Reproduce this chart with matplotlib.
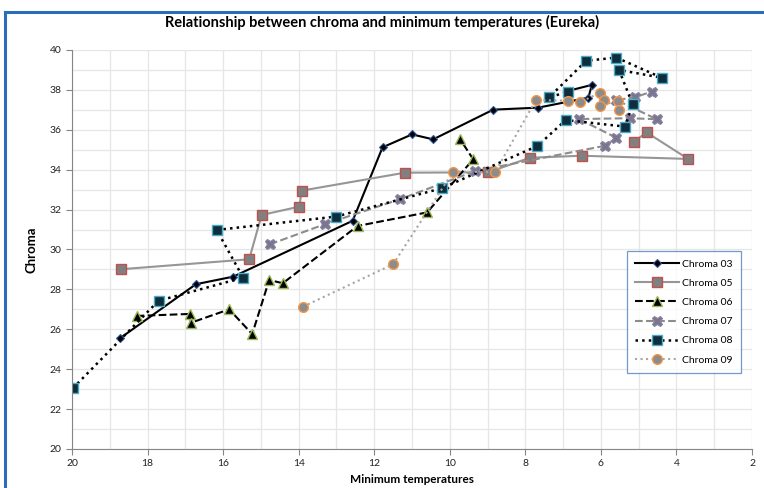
import matplotlib
matplotlib.use("Agg")
import matplotlib.pyplot as plt
from matplotlib.lines import Line2D

plt.rcParams['font.family'] = ['Lato', 'DejaVu Sans']

# ── data ────────────────────────────────────────────────────────────────
x03 = [18.73, 16.72, 15.73, 12.57, 11.78, 11.00, 10.44, 8.85, 7.66, 6.33, 6.24, 6.87]
y03 = [25.55, 28.26, 28.64, 31.44, 35.12, 35.77, 35.52, 37.01, 37.11, 37.61, 38.25, 37.95]

x05 = [18.71, 15.31, 14.98, 13.98, 13.92, 11.19, 8.98, 7.88, 6.51, 3.69, 4.79, 5.12]
y05 = [29.01, 29.51, 31.73, 32.15, 32.95, 33.85, 33.87, 34.60, 34.70, 34.54, 35.87, 35.41]

x06 = [18.29, 16.88, 16.85, 15.84, 15.23, 14.78, 14.42, 12.44, 10.60, 9.38, 9.73]
y06 = [26.67, 26.77, 26.33, 27.00, 25.76, 28.47, 28.31, 31.18, 31.86, 34.52, 35.54]

x07 = [14.76, 13.29, 11.32, 9.33, 5.89, 5.59, 6.58, 5.23, 4.52, 5.59, 5.10, 4.66]
y07 = [30.26, 31.28, 32.52, 33.93, 35.20, 35.60, 36.54, 36.58, 36.53, 37.49, 37.63, 37.91]

x08 = [19.98, 17.71, 15.47, 16.17, 13.01, 10.21, 7.68, 6.93, 5.36, 5.16, 5.52, 4.39,
       5.59, 6.39, 7.37, 6.86]
y08 = [23.04, 27.43, 28.59, 30.98, 31.65, 33.07, 35.19, 36.49, 36.16, 37.28, 39.00, 38.61,
       39.62, 39.46, 37.63, 37.91]

x09 = [13.89, 11.50, 9.91, 8.80, 7.72, 6.86, 6.55, 6.02, 5.92, 6.02, 5.54, 5.51]
y09 = [27.13, 29.26, 33.90, 33.88, 37.49, 37.46, 37.38, 37.86, 37.49, 37.21, 37.46, 36.99]

# ── figure ───────────────────────────────────────────────────────────────
fig = plt.figure(figsize=(7.64, 4.88), dpi=100)
# chart-area border (only left and top edges are in the screenshot)
bx, by = 5 / 764, 1 - 12 / 488
fig.add_artist(Line2D([bx, bx], [0, by], transform=fig.transFigure,
                      color="#2a6ebb", lw=2.2, solid_capstyle="projecting"))
fig.add_artist(Line2D([bx, 1], [by, by], transform=fig.transFigure,
                      color="#2a6ebb", lw=2.2, solid_capstyle="projecting"))

ax = fig.add_axes([72 / 764, 1 - 449 / 488, 680 / 764, 399 / 488])

ax.plot(x03, y03, "-", color="black", lw=1.5, marker="D", ms=4.5,
        mfc="black", mec="#2f5597", mew=0.8, label="Chroma 03")
ax.plot(x05, y05, "-", color="#969696", lw=1.5, marker="s", ms=7,
        mfc="#808080", mec="#c0504d", mew=1.0, label="Chroma 05")
ax.plot(x06, y06, "--", color="black", lw=1.5, marker="^", ms=6.5,
        mfc="black", mec="#9bbb59", mew=1.0, label="Chroma 06")
ax.plot(x07, y07, "--", color="#8c8c8c", lw=1.5, marker="X", ms=7.5,
        mfc="#7b7590", mec="#8a84a0", mew=0.8, label="Chroma 07")
ax.plot(x08, y08, ":", color="black", lw=1.8, marker="s", ms=6.5,
        mfc="#0f2d3c", mec="#4bacc6", mew=1.0, label="Chroma 08")
ax.plot(x09, y09, ":", color="#a6a6a6", lw=1.5, marker="o", ms=7,
        mfc="#8c8c8c", mec="#f79646", mew=1.0, label="Chroma 09")

ax.set_xlim(20, 2)
ax.set_ylim(20, 40)
ax.set_xticks(range(20, 1, -2))
ax.set_yticks(range(20, 41, 2))
ax.set_xticks(range(20, 1, -1), minor=True)
ax.set_yticks(range(20, 41, 1), minor=True)
ax.grid(True, which="both", color="#e6e6e6", linewidth=0.9)
ax.set_axisbelow(True)
ax.tick_params(which="major", labelsize=7.5, length=4, color="#868686", colors="#222222")
ax.tick_params(which="minor", length=0)
for side in ("top", "right"):
    ax.spines[side].set_visible(False)
for side in ("left", "bottom"):
    ax.spines[side].set_color("#868686")

ax.set_xlabel("Minimum temperatures", fontsize=8.5, fontweight="bold", labelpad=4)
ax.set_ylabel("Chroma", fontsize=9.5, fontweight="bold", labelpad=9)
fig.text(0.5, 1 - 22 / 488, "Relationship between chroma and minimum temperatures (Eureka)",
         ha="center", va="center", fontsize=10.5, fontweight="bold")

leg = ax.legend(loc="upper left", bbox_to_anchor=((627 - 72) / 680, 1 - (251 - 50) / 399),
                fontsize=7.5, frameon=True, fancybox=False, borderpad=0.8,
                labelspacing=0.95, handlelength=4.2, handletextpad=0.3, borderaxespad=0)
leg.get_frame().set_edgecolor("#4f81bd")
leg.get_frame().set_linewidth(0.9)

fig.savefig("out.png", dpi=100)
